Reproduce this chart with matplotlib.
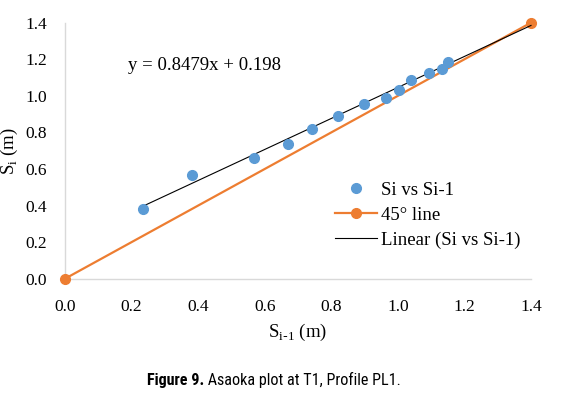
import matplotlib
from matplotlib import pyplot as plt
import numpy as np
plt.switch_backend('agg')

# Asaoka data
s_prev = [0.235, 0.383, 0.569, 0.670, 0.742, 0.820, 0.899, 0.964, 1.004, 1.038, 1.094, 1.133, 1.151]
s_curr = [0.379, 0.567, 0.662, 0.736, 0.818, 0.890, 0.954, 0.988, 1.032, 1.088, 1.127, 1.145, 1.185]
line45_x = [0.0, 1.4]
line45_y = [0.0, 1.4]
slope = 0.8479
intercept = 0.198
ticks = [0.0, 0.2, 0.4, 0.6, 0.8, 1.0, 1.2, 1.4]

blue = '#5B9BD5'
orange = '#ED7D31'
serif = ['Liberation Serif', 'DejaVu Serif']
capfont = ['Roboto Condensed', 'Roboto', 'DejaVu Sans']

fig = plt.figure(figsize=(5.71, 3.99), dpi=100)
ax = fig.add_axes([65/571, 1 - 278.7/399, 466/571, 256/399])

ax.plot(line45_x, line45_y, color=orange, lw=1.6, marker='o', ms=7,
        clip_on=False, zorder=3, label='45° line')
tx = np.array([s_prev[0], 1.4])
ax.plot(tx, slope*tx + intercept, color='black', lw=0.8, zorder=4,
        clip_on=False, label='Linear (Si vs Si-1)')
ax.plot(s_prev, s_curr, ls='none', marker='o', ms=7, color=blue,
        zorder=5, clip_on=False, label='Si vs Si-1')

ax.set_xlim(0, 1.4)
ax.set_ylim(0, 1.4)
ax.set_xticks(ticks)
ax.set_yticks(ticks)
ax.set_xticklabels(['%.1f' % t for t in ticks], family=serif, fontsize=12.5)
ax.set_yticklabels(['%.1f' % t for t in ticks], family=serif, fontsize=12.5)
ax.tick_params(length=0)
ax.tick_params(axis='x', pad=14.5)
ax.tick_params(axis='y', pad=13)
for s in ['top', 'right']:
    ax.spines[s].set_visible(False)
for s in ['left', 'bottom']:
    ax.spines[s].set_color('#D9D9D9')
    ax.spines[s].set_linewidth(1.0)

ax.set_xlabel(r'S$_{\mathregular{i\text{-}1}}$ (m)', family=serif, fontsize=13.5, labelpad=5)
ax.set_ylabel(r'S$_{\mathregular{i}}$ (m)', family=serif, fontsize=13.5, labelpad=4)

ax.text(128/571, 1 - 65/399, 'y = 0.8479x + 0.198', transform=fig.transFigure,
        family=serif, fontsize=13.5, va='center', ha='left')

h, l = ax.get_legend_handles_labels()
order = [2, 0, 1]
ax.legend([h[i] for i in order], [l[i] for i in order], loc='upper left',
          bbox_to_anchor=((327 - 65)/466, (278.7 - 174)/256), frameon=False,
          prop={'family': serif, 'size': 13.5}, handlelength=2.25,
          handletextpad=0.25, labelspacing=0.42, borderaxespad=0)

# caption: bold "Figure 9." followed by normal text, centred as a whole
cap_y = 1 - 380/399
t1 = fig.text(0, cap_y, 'Figure 9.', ha='left', va='center', fontsize=11.6,
              weight='bold', family=capfont)
t2 = fig.text(0, cap_y, ' Asaoka plot at T1, Profile PL1.', ha='left', va='center',
              fontsize=11.6, family=capfont)
fig.canvas.draw()
r = fig.canvas.get_renderer()
w1 = t1.get_window_extent(r).width / fig.bbox.width
w2 = t2.get_window_extent(r).width / fig.bbox.width
x0 = 273.6/571 - (w1 + w2)/2
t1.set_x(x0)
t2.set_x(x0 + w1)

plt.savefig('out.png', dpi=100)
